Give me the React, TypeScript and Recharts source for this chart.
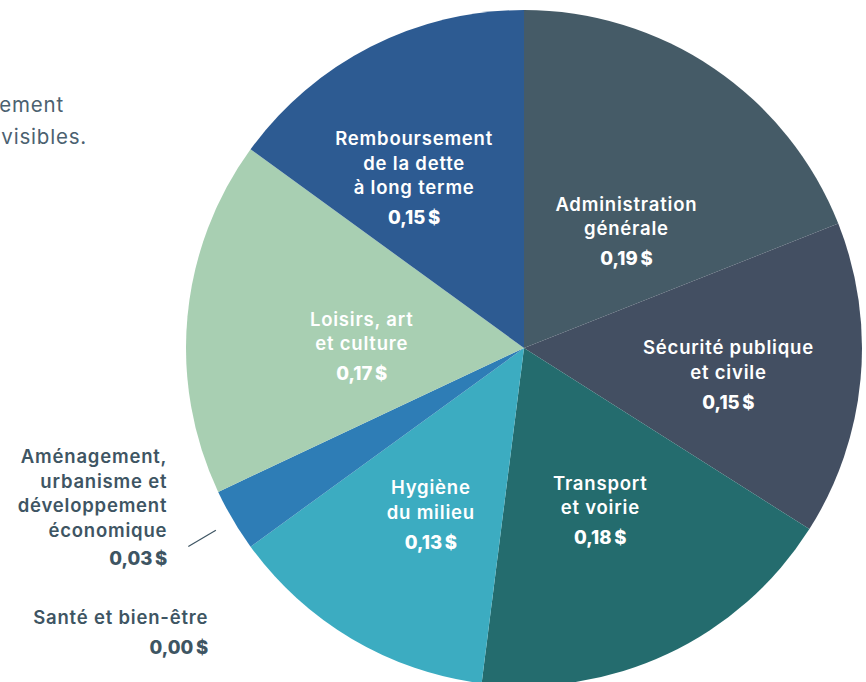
import { PieChart, Pie, Cell } from "recharts";

const categories = [
  "Administration générale",
  "Sécurité publique et civile",
  "Transport et voirie",
  "Hygiène du milieu",
  "Aménagement, urbanisme et développement économique",
  "Santé et bien-être",
  "Loisirs, art et culture",
  "Remboursement de la dette à long terme",
];
const values = [0.19, 0.15, 0.18, 0.13, 0.03, 0.0, 0.17, 0.15];
const labelLines = [
  ["Administration", "générale"],
  ["Sécurité publique", "et civile"],
  ["Transport", "et voirie"],
  ["Hygiène", "du milieu"],
  ["Aménagement,", "urbanisme et", "développement", "économique"],
  ["Santé et bien-être"],
  ["Loisirs, art", "et culture"],
  ["Remboursement", "de la dette", "à long terme"],
];
const noteLines = ["nécessairement", "des montants divisibles."];

const colors = ["#455b67", "#434f62", "#246c6e", "#3cacc1", "#2e7db6", "#2e7db6", "#a8cfb2", "#2d5b92"];
// label placement: fraction of radius, angle nudge (deg)
const labelRadius = [0.46, 0.61, 0.53, 0.565, 0, 0, 0.48, 0.6];
const labelNudge = [-7, -2, 0, 1.4, 0, 0, 4.7, 5.8];

const data = categories.map((name, i) => ({ name, value: values[i] }));
const money = (v: number) => v.toFixed(2).replace(".", ",") + "\u202F$";

const RAD = Math.PI / 180;
const FONT = "Inter, 'Noto Sans', sans-serif";
const DARK = "#3e5563";
const FS = 18.5;
const LS = 0.8;
const FW = 560;

const renderLabel = (props: any) => {
  const { cx, cy, midAngle, outerRadius, index } = props;
  if (index === 5) return null;
  const lines = labelLines[index];
  const val = money(values[index]);

  if (index === 4) {
    const a = -midAngle * RAD;
    const x1 = cx + (outerRadius + 20) * Math.cos(a);
    const y1 = cy + (outerRadius + 20) * Math.sin(a);
    const x2 = cx + (outerRadius + 52) * Math.cos(a);
    const y2 = cy + (outerRadius + 52) * Math.sin(a);
    const tx = x2 - 21;
    const vy = y2 + 11;
    return (
      <g key={`lbl-${index}`}>
        <line x1={x1} y1={y1} x2={x2} y2={y2} stroke={DARK} strokeWidth={1.2} />
        {lines.map((l, i) => (
          <text key={i} x={tx} y={vy - 28 - (lines.length - 1 - i) * 24.5} textAnchor="end"
            dominantBaseline="central" fill={DARK} fontSize={FS} letterSpacing={LS} fontWeight={FW} fontFamily={FONT}>
            {l}
          </text>
        ))}
        <text x={tx} y={vy} textAnchor="end" dominantBaseline="central" fill={DARK}
          fontSize={FS} letterSpacing={LS} fontWeight={800} fontFamily={FONT}>
          {val}
        </text>
        <text x={tx + 41} y={vy + 59} textAnchor="end" dominantBaseline="central" fill={DARK}
          fontSize={FS} letterSpacing={LS} fontWeight={FW} fontFamily={FONT}>
          {labelLines[5][0]}
        </text>
        <text x={tx + 41} y={vy + 89} textAnchor="end" dominantBaseline="central" fill={DARK}
          fontSize={FS} letterSpacing={LS} fontWeight={800} fontFamily={FONT}>
          {money(values[5])}
        </text>
      </g>
    );
  }

  const a = -(midAngle + labelNudge[index]) * RAD;
  const r = outerRadius * labelRadius[index];
  const px = cx + r * Math.cos(a);
  const py = cy + r * Math.sin(a);
  const total = (lines.length - 1) * 24.5 + 30;
  const y0 = py - total / 2;
  return (
    <g key={`lbl-${index}`}>
      {lines.map((l, i) => (
        <text key={i} x={px} y={y0 + i * 24.5} textAnchor="middle" dominantBaseline="central"
          fill="#ffffff" fontSize={FS} letterSpacing={LS} fontWeight={FW} fontFamily={FONT}>
          {l}
        </text>
      ))}
      <text x={px} y={y0 + total} textAnchor="middle" dominantBaseline="central" fill="#ffffff"
        fontSize={FS} letterSpacing={LS} fontWeight={800} fontFamily={FONT}>
        {val}
      </text>
    </g>
  );
};

export default function App() {
  return (
    <div style={{ position: "absolute", left: 0, top: 0, width: 866, height: 682, background: "#fff" }}>
      <PieChart width={866} height={682} margin={{ top: 0, right: 0, bottom: 0, left: 0 }}>
        <text x={64} y={104} textAnchor="end" dominantBaseline="central" fill="#4b6170"
          fontSize={20.5} letterSpacing={0.8} fontFamily={FONT}>
          {noteLines[0]}
        </text>
        <text x={87} y={136} textAnchor="end" dominantBaseline="central" fill="#4b6170"
          fontSize={20.5} letterSpacing={0.8} fontFamily={FONT}>
          {noteLines[1]}
        </text>
        <Pie
          data={data}
          dataKey="value"
          nameKey="name"
          cx={524}
          cy={348}
          outerRadius={338}
          startAngle={90}
          endAngle={-270}
          stroke="none"
          labelLine={false}
          label={renderLabel}
          isAnimationActive={false}
        >
          {data.map((_, i) => (
            <Cell key={i} fill={colors[i]} />
          ))}
        </Pie>
      </PieChart>
    </div>
  );
}
